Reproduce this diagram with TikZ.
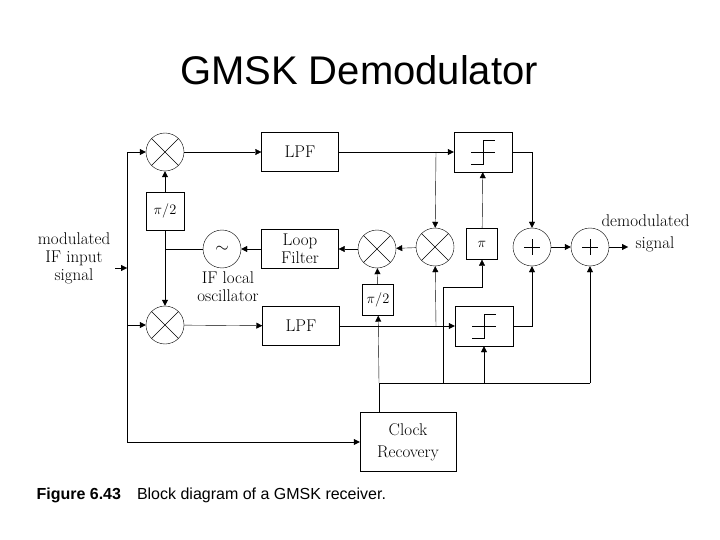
\documentclass[tikz,border=0pt]{standalone}
\usepackage{fontspec}
\setsansfont{Liberation Sans}
\usetikzlibrary{arrows.meta}
\begin{document}
\begin{tikzpicture}[x=1pt,y=-1pt,
        mixer/.style={circle, draw, minimum size=38pt, inner sep=0pt,
          path picture={\draw (path picture bounding box.north west) -- (path picture bounding box.south east)
            (path picture bounding box.north east) -- (path picture bounding box.south west);}},
        adder/.style={circle, draw, minimum size=38pt, inner sep=0pt,
          path picture={\draw ([yshift=-11pt]path picture bounding box.north) -- ([yshift=11pt]path picture bounding box.south)
            ([xshift=11pt]path picture bounding box.west) -- ([xshift=-11pt]path picture bounding box.east);}},
        block/.style={draw, minimum width=77pt, minimum height=39pt, align=center, font=\fontsize{17}{18}\selectfont},
        small/.style={draw, minimum width=31pt, minimum height=31pt, font=\fontsize{15}{17}\selectfont},
        limiter/.style={draw, minimum width=58pt, minimum height=40pt,
          path picture={\draw ([xshift=-12pt]path picture bounding box.center) -- ([xshift=12pt]path picture bounding box.center)
            ([xshift=-12pt,yshift=-12pt]path picture bounding box.center) -- ([yshift=-12pt]path picture bounding box.center)
            -- ([yshift=12pt]path picture bounding box.center) -- ([xshift=12pt,yshift=12pt]path picture bounding box.center);}},
        lbl/.style={align=center, font=\fontsize{17}{18}\selectfont},
        sig/.style={-{Triangle[length=6pt,width=6pt]}}]
    \useasboundingbox (0,0) rectangle (720,540);

    \node[font=\sffamily\fontsize{40}{44}\selectfont] (title) at (359,70) {GMSK Demodulator};

    \node[mixer] (M1) at (165,152) {};
    \node[mixer] (M2) at (165,325) {};
    \node[small, minimum width=38pt, minimum height=38pt] (PH1) at (165,211) {$\pi/2$};
    \node[block] (LPF1) at (300,152) {LPF};
    \node[block] (LPF2) at (301,326) {LPF};
    \node[block] (LF) at (300,249) {Loop\\Filter};
    \node[circle, draw, minimum size=38pt, inner sep=0pt] (OSC) at (222,249) {\LARGE$\sim$};
    \node[lbl] (osclbl) at (228,287) {IF local\\oscillator};
    \node[mixer] (M3) at (377,249) {};
    \node[small] (PH2) at (378,300) {$\pi/2$};
    \node[mixer] (M4) at (435,247) {};
    \node[small] (PI) at (482,244) {$\pi$};
    \node[limiter] (L1) at (483,152) {};
    \node[limiter] (L2) at (484,326) {};
    \node[adder] (S1) at (532,247) {};
    \node[adder] (S2) at (590,247) {};
    \node[block, minimum width=96pt, minimum height=59pt] (CR) at (408,442) {Clock\\[4pt]Recovery};

    \node[lbl] (inlbl) at (74,258) {modulated\\IF input\\signal};
    \node[lbl, anchor=west] (outlbl1) at (598,221) {demodulated};
    \node[lbl, anchor=west] (outlbl2) at (632,244) {signal};

    \coordinate (in) at (127,268);
    \coordinate (out) at (628,247);
    \coordinate (bus) at (379,383);

    % input distribution
    \draw[sig] (115,268) -- (in);
    \draw[sig] (127,442) -- (127,152) -- (M1);
    \draw[sig] (127,325) -- (M2);
    \draw[sig] (127,442) -- (CR);

    % I/Q branches
    \draw[sig] (M1) -- (LPF1);
    \draw[sig] (M2) -- (LPF2);
    \draw[sig] (PH1) -- (M1);
    \draw[sig] (PH1) -- (M2);
    \draw (OSC) -- (165,249);
    \draw[sig] (LF) -- (OSC);
    \draw[sig] (M3) -- (LF);
    \draw[sig] (M4) -- (M3);
    \draw[sig] (PH2) -- (M3);
    \draw[sig] (LPF1) -- (L1);
    \draw[sig] (LPF2) -- (L2);
    \draw[sig] (436,152) -- (M4);
    \draw[sig] (436,326) -- (M4);

    % decision and sum
    \draw[sig] (PI) -- (L1);
    \draw[sig] (L1.east) -| (S1);
    \draw[sig] (L2.east) -| (S1);
    \draw[sig] (S1) -- (S2);
    \draw[sig] (S2) -- (out);

    % clock bus
    \draw (CR.north -| bus) -- (bus) -- (590,383);
    \draw[sig] (bus) -- (PH2);
    \draw[sig] (443,383) -- (443,287) -| (PI);
    \draw[sig] (484,383) -- (L2);
    \draw[sig] (590,383) -- (S2);

    \node[anchor=west, font=\sffamily\fontsize{16}{18}\selectfont] (cap) at (33,495)
      {\textbf{Figure 6.43}\hspace{16pt}Block diagram of a GMSK receiver.};
\end{tikzpicture}
\end{document}
